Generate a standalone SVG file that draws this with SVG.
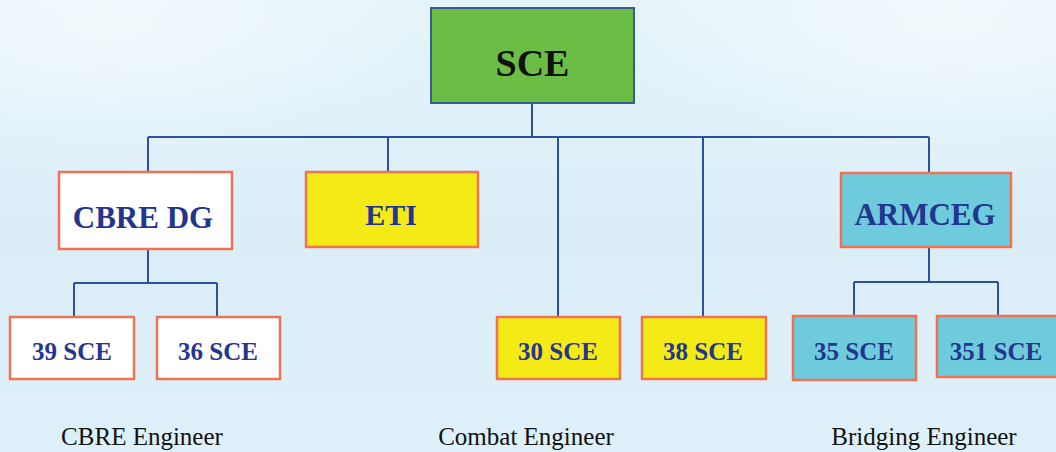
<svg xmlns="http://www.w3.org/2000/svg" width="1056" height="452" viewBox="0 0 1056 452">
<defs>
<linearGradient id="bg" x1="0" y1="0" x2="0" y2="1">
<stop offset="0" stop-color="#e4f3fa"/>
<stop offset="0.5" stop-color="#dbeef8"/>
<stop offset="1" stop-color="#def0f9"/>
</linearGradient>
<radialGradient id="glowL" cx="0.1" cy="0.05" r="0.35">
<stop offset="0" stop-color="#ffffff" stop-opacity="0.5"/>
<stop offset="1" stop-color="#ffffff" stop-opacity="0"/>
</radialGradient>
<radialGradient id="glowR" cx="0.9" cy="0.05" r="0.35">
<stop offset="0" stop-color="#ffffff" stop-opacity="0.5"/>
<stop offset="1" stop-color="#ffffff" stop-opacity="0"/>
</radialGradient>
<style>
.box{stroke:#ef7352;stroke-width:2.5}
.white{fill:#ffffff}
.yellow{fill:#f4ea16}
.cyan{fill:#6dcbdb}
.t{font-family:"Liberation Serif","Times New Roman",serif;font-weight:bold;fill:#23358f;text-anchor:middle}
.lbl{font-family:"Liberation Serif","Times New Roman",serif;font-size:25px;fill:#111111;text-anchor:middle}
.conn{fill:none;stroke:#2c4fa0;stroke-width:2}
</style>
</defs>
<rect width="1056" height="452" fill="url(#bg)"/>
<rect width="1056" height="452" fill="url(#glowL)"/>
<rect width="1056" height="452" fill="url(#glowR)"/>

<g id="connectors" class="conn">
<path d="M532 103V137M148 137H929M148 137V172M388 137V172M558 137V317M703 137V317M929 137V173"/>
<path d="M148 249V283M74 283H217M74 283V317M217 283V317"/>
<path d="M929 247V282M854 282H998M854 282V316M998 282V316"/>
</g>

<g id="sce">
<rect x="431" y="8" width="203" height="95" fill="#6cbd45" stroke="#3a5b8e" stroke-width="2"/>
<text x="532.5" y="76" class="t" style="fill:#111111;font-size:38px">SCE</text>
</g>
<g id="cbre-dg">
<rect x="59" y="172" width="173" height="77" class="box white"/>
<text x="143" y="228" class="t" font-size="31">CBRE DG</text>
</g>
<g id="eti">
<rect x="306" y="172" width="172" height="75" class="box yellow"/>
<text x="391" y="225" class="t" font-size="30">ETI</text>
</g>
<g id="armceg">
<rect x="841" y="173" width="170" height="74" class="box cyan"/>
<text x="925" y="225" class="t" font-size="31">ARMCEG</text>
</g>
<g id="sce39">
<rect x="10" y="317" width="124" height="62" class="box white"/>
<text x="72" y="360" class="t" font-size="25">39 SCE</text>
</g>
<g id="sce36">
<rect x="157" y="317" width="123" height="62" class="box white"/>
<text x="218" y="360" class="t" font-size="25">36 SCE</text>
</g>
<g id="sce30">
<rect x="497" y="317" width="123" height="62" class="box yellow"/>
<text x="558" y="360" class="t" font-size="25">30 SCE</text>
</g>
<g id="sce38">
<rect x="642" y="317" width="124" height="62" class="box yellow"/>
<text x="703" y="360" class="t" font-size="25">38 SCE</text>
</g>
<g id="sce35">
<rect x="793" y="316" width="123" height="64" class="box cyan"/>
<text x="854" y="360" class="t" font-size="25">35 SCE</text>
</g>
<g id="sce351">
<rect x="937" y="316" width="125" height="61" class="box cyan"/>
<text x="996" y="360" class="t" font-size="25">351 SCE</text>
</g>

<g id="labels">
<text x="142" y="445" class="lbl">CBRE Engineer</text>
<text x="526" y="445" class="lbl">Combat Engineer</text>
<text x="924" y="445" class="lbl">Bridging Engineer</text>
</g>
</svg>
